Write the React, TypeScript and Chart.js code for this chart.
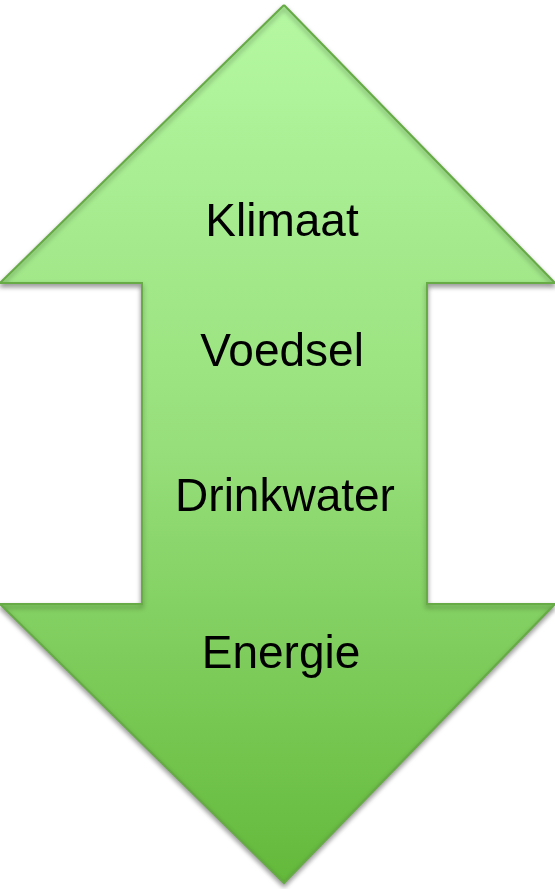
import React, { useEffect, useRef } from "react";
import { Chart, registerables } from "chart.js";

Chart.register(...registerables);

// Double-headed arrow outline (vertices in the chart's own units)
const arrowX = [284, 555, 427, 427, 555, 284, 0, 142, 142, 0, 284];
const arrowY = [5, 283, 283, 604, 604, 883, 604, 604, 283, 283, 5];

// Labels inside the arrow
const labelTexts = ["Klimaat", "Voedsel", "Drinkwater", "Energie"];
const labelX = [282, 282, 285, 281];
const labelY = [236, 366, 511, 668];

const W = 555;
const H = 889;

export default function App() {
  const ref = useRef<HTMLCanvasElement | null>(null);

  useEffect(() => {
    document.body.style.margin = "0";
    const canvas = ref.current;
    if (!canvas) return;

    const shadowPlugin = {
      id: "arrowShadow",
      beforeDatasetsDraw(chart: any) {
        const ctx = chart.ctx;
        ctx.save();
        ctx.shadowColor = "rgba(0,0,0,0.38)";
        ctx.shadowOffsetX = 0;
        ctx.shadowOffsetY = 3;
        ctx.shadowBlur = 5;
      },
      afterDatasetsDraw(chart: any) {
        const ctx = chart.ctx;
        ctx.restore();
        const xs = chart.scales.x;
        const ys = chart.scales.y;
        ctx.save();
        ctx.fillStyle = "#000000";
        ctx.font = '46px "Liberation Sans", Arial, sans-serif';
        ctx.textAlign = "center";
        ctx.textBaseline = "alphabetic";
        labelTexts.forEach((t, i) => {
          ctx.fillText(t, xs.getPixelForValue(labelX[i]), ys.getPixelForValue(labelY[i]));
        });
        ctx.restore();
      },
    };

    const chart = new Chart(canvas, {
      type: "line",
      data: {
        datasets: [
          {
            data: arrowX.map((x, i) => ({ x, y: arrowY[i] })),
            fill: "shape",
            tension: 0,
            clip: false,
            borderColor: "#66ab45",
            borderWidth: 2,
            borderJoinStyle: "miter",
            pointRadius: 0,
            pointHoverRadius: 0,
            backgroundColor: (c: any) => {
              const area = c.chart.chartArea;
              if (!area) return "#95de7a";
              const g = c.chart.ctx.createLinearGradient(0, area.top, 0, area.bottom);
              g.addColorStop(0, "#b5f8a2");
              g.addColorStop(0.5, "#97df7b");
              g.addColorStop(1, "#63b93a");
              return g;
            },
          } as any,
        ],
      },
      options: {
        animation: false,
        responsive: false,
        maintainAspectRatio: false,
        events: [],
        layout: { padding: 0 },
        scales: {
          x: { type: "linear", min: 0, max: W, display: false },
          y: { type: "linear", min: 0, max: H, reverse: true, display: false },
        },
        plugins: {
          legend: { display: false },
          tooltip: { enabled: false },
          title: { display: false },
        },
      },
      plugins: [shadowPlugin],
    });

    return () => chart.destroy();
  }, []);

  return (
    <div style={{ width: W, height: H, background: "#ffffff" }}>
      <canvas ref={ref} width={W} height={H} style={{ display: "block", width: W, height: H }} />
    </div>
  );
}
